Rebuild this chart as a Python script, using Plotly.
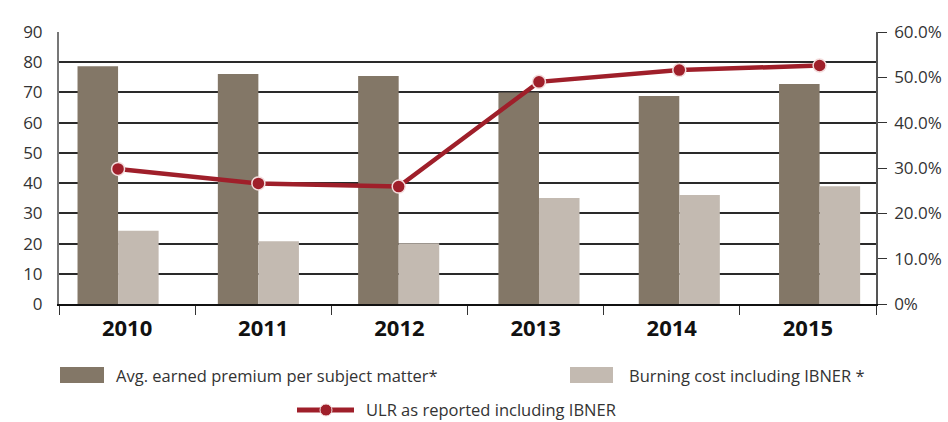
import plotly.graph_objects as go

# ---- data ---------------------------------------------------------------
years = ["2010", "2011", "2012", "2013", "2014", "2015"]
avg_premium = [78.7, 76.1, 75.4, 70.0, 68.8, 72.8]
burning_cost = [24.2, 20.8, 20.1, 35.1, 36.1, 39.0]
ulr_pct = [29.8, 26.6, 25.9, 49.0, 51.6, 52.6]

left_ticks = list(range(0, 91, 10))
right_ticks = list(range(0, 61, 10))
right_labels = ["0%"] + [f"{v:.1f}%" for v in right_ticks[1:]]

name_premium = "Avg. earned premium per subject matter*"
name_burning = "Burning cost including IBNER *"
name_ulr = "ULR as reported including IBNER"

# ---- styling ------------------------------------------------------------
C_DARK = "#837767"
C_LIGHT = "#c3bab1"
C_RED = "#9f1f2a"
FONT = "Open Sans"
TXT = "#333333"

W, H = 948, 422
L, R, T, B = 59, 72, 32, 118
PW, PH = W - L - R, H - T - B


def px(xp):
    return (xp - L) / PW


def py(yp):
    return (H - B - yp) / PH


fig = go.Figure()

# category axis carrying the year labels
fig.add_trace(go.Scatter(x=years, y=avg_premium, mode="markers",
                         marker=dict(opacity=0), hoverinfo="skip",
                         showlegend=False, xaxis="x", yaxis="y"))

fig.add_trace(go.Bar(x=years, y=avg_premium, name=name_premium,
                     marker=dict(color=C_DARK, line=dict(width=0)),
                     xaxis="x2", yaxis="y", showlegend=False))
fig.add_trace(go.Bar(x=years, y=burning_cost, name=name_burning,
                     marker=dict(color=C_LIGHT, line=dict(width=0)),
                     xaxis="x2", yaxis="y", showlegend=False))
fig.add_trace(go.Scatter(x=years, y=ulr_pct, name=name_ulr,
                         mode="lines+markers",
                         line=dict(color=C_RED, width=4.5),
                         marker=dict(size=13, color=C_RED,
                                     line=dict(color="#f3dcdc", width=1.5)),
                         xaxis="x2", yaxis="y2", showlegend=False))

fig.update_layout(
    width=W, height=H,
    margin=dict(l=L, r=R, t=T, b=B, autoexpand=False),
    paper_bgcolor="white", plot_bgcolor="white",
    barmode="group", bargap=0.422, bargroupgap=0,
    font=dict(family=FONT, color=TXT, size=17),
    xaxis=dict(type="category", categoryorder="array", categoryarray=years,
               range=[-0.5, 5.5], showgrid=False, zeroline=False,
               automargin=False,
               showline=True, linecolor="#111111", linewidth=1.5,
               ticks="outside", tickson="boundaries", ticklen=9,
               tickcolor="#333333", tickwidth=1.3, ticklabelstandoff=4,
               tickfont=dict(family=FONT, size=22, color="#111111",
                             weight="bold")),
    xaxis2=dict(type="category", categoryorder="array", categoryarray=years,
                overlaying="x", range=[-0.421, 5.402], visible=False,
                automargin=False),
    yaxis=dict(range=[0, 90], tickvals=left_ticks, showgrid=True,
               gridcolor="#2a2a2a", gridwidth=1.6, zeroline=False,
               automargin=False,
               showline=True, linecolor="#777777", linewidth=2,
               ticks="", ticklabelstandoff=11,
               tickfont=dict(family=FONT, size=17, color=TXT)),
    yaxis2=dict(range=[0, 60], tickvals=right_ticks, ticktext=right_labels,
                overlaying="y", side="right", anchor="x", showgrid=False,
                zeroline=False, automargin=False,
                showline=True, linecolor="#555555",
                linewidth=1.5, ticks="outside", ticklen=9,
                tickcolor="#333333", tickwidth=1.3, ticklabelstandoff=4,
                tickfont=dict(family=FONT, size=17, color=TXT)),
)

# ---- legend drawn below the plot ---------------------------------------
shapes = [
    dict(type="rect", xref="paper", yref="paper",
         x0=px(60), x1=px(104), y0=py(383), y1=py(367),
         fillcolor=C_DARK, line=dict(width=0)),
    dict(type="rect", xref="paper", yref="paper",
         x0=px(570), x1=px(613), y0=py(383), y1=py(367),
         fillcolor=C_LIGHT, line=dict(width=0)),
    dict(type="line", xref="paper", yref="paper",
         x0=px(297), x1=px(354), y0=py(410), y1=py(410),
         line=dict(color=C_RED, width=5)),
    dict(type="circle", xref="paper", yref="paper",
         x0=px(320), x1=px(332), y0=py(416), y1=py(404),
         fillcolor=C_RED, line=dict(color="#f3dcdc", width=1)),
]
legend_font = dict(family=FONT, size=16.5, color=TXT)
annotations = [
    dict(text=name_premium, xref="paper", yref="paper", x=px(114), y=py(375),
         xanchor="left", yanchor="middle", showarrow=False, font=legend_font),
    dict(text=name_burning, xref="paper", yref="paper", x=px(627), y=py(375),
         xanchor="left", yanchor="middle", showarrow=False, font=legend_font),
    dict(text=name_ulr, xref="paper", yref="paper", x=px(364), y=py(409.5),
         xanchor="left", yanchor="middle", showarrow=False, font=legend_font),
]
fig.update_layout(shapes=shapes, annotations=annotations)

fig.write_html("out.html")
